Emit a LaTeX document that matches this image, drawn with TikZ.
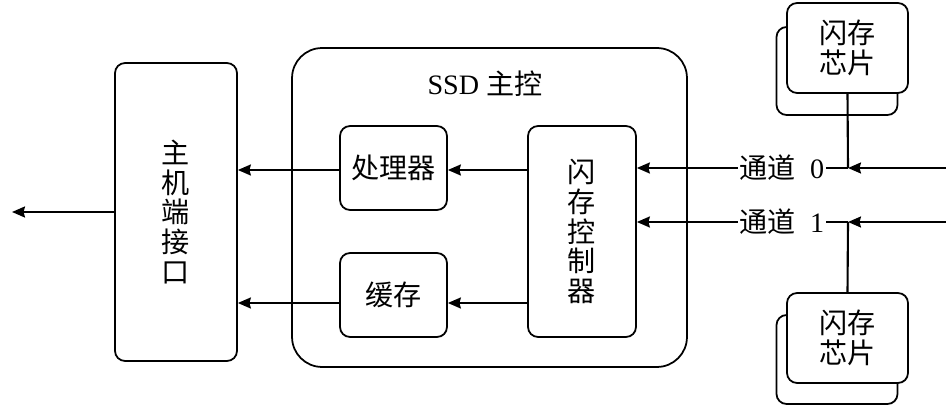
\documentclass[tikz,border=0pt]{standalone}
\usepackage{fontspec}
\setmainfont{Liberation Serif}
\newfontfamily\cjk{Noto Sans CJK SC}
\usetikzlibrary{arrows.meta}

\begin{document}
\begin{tikzpicture}[x=0.02cm,y=-0.02cm,
  box/.style={draw, line width=1pt, rounded corners=0.2cm, fill=white, align=center,
    font=\fontsize{16}{17}\selectfont\cjk},
  arr/.style={line width=1.2pt, -{Stealth[length=2.6mm,width=2.2mm,inset=0.3mm]}},
  ln/.style={line width=1.2pt},
  lab/.style={inner sep=1pt, font=\fontsize{16}{17}\selectfont}]

\useasboundingbox (0,0) rectangle (946,408);

	\node (S) [draw, line width=1pt, rounded corners=0.6cm, minimum width=7.9cm, minimum height=6.38cm] at (489.5,207.5) {};
	\node (s) [lab] at (485,84) {SSD {\cjk 主控}};

	\node (H) [box, minimum width=2.44cm, minimum height=5.96cm] at (176,212) {主\\机\\端\\接\\口};
	\node (P) [box, minimum width=2.14cm, minimum height=1.68cm] at (393.5,168) {处理器};
	\node (C) [box, minimum width=2.14cm, minimum height=1.68cm] at (393.5,295) {缓存};
	\node (F) [box, minimum width=2.16cm, minimum height=4.22cm] at (582,231.5) {闪\\存\\控\\制\\器};

	\node (a) [box, minimum width=2.42cm, minimum height=1.76cm] at (837,71) {};
	\node (A) [box, minimum width=2.42cm, minimum height=1.8cm] at (847.5,48) {闪存\\芯片};
	\node (b) [box, minimum width=2.42cm, minimum height=1.78cm] at (837,359.5) {};
	\node (B) [box, minimum width=2.42cm, minimum height=1.8cm] at (847.5,338) {闪存\\芯片};

	\node (c0) [lab] at (782,168) {{\cjk 通道}\ \ 0};
	\node (c1) [lab] at (782,222) {{\cjk 通道}\ \ 1};

	\coordinate (j0) at (848,168);
	\coordinate (j1) at (848,222);
	\coordinate (r0) at (946,168);
	\coordinate (r1) at (946,222);
	\coordinate (o) at (12,212);

	\draw [arr] (H.west |- o) -- (o);
	\draw [arr] (P.west |- 0,170) -- (H.east |- 0,170);
	\draw [arr] (C.west |- 0,303) -- (H.east |- 0,303);
	\draw [arr] (F.west |- 0,170) -- (P.east |- 0,170);
	\draw [arr] (F.west |- 0,303) -- (C.east |- 0,303);

	\draw [arr] (c0.west) -- (F.east |- c0.west);
	\draw [arr] (c1.west) -- (F.east |- c1.west);
	\draw [ln] (c0.east) -- (j0);
	\draw [ln] (c1.east) -- (j1);
	\draw [arr] (r0) -- (j0);
	\draw [arr] (r1) -- (j1);
	\draw [ln] (A.south) -- (j0);
	\draw [ln] (B.north) -- (j1);

\end{tikzpicture}
\end{document}
